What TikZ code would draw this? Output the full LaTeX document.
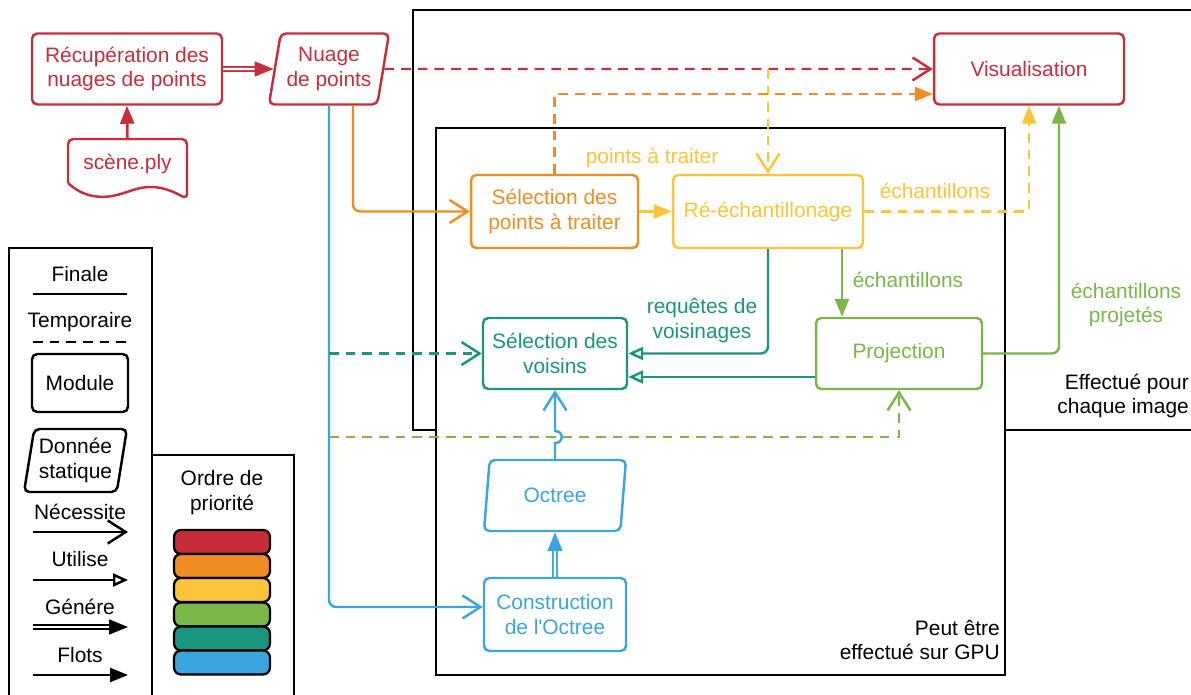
\documentclass[tikz,border=0pt]{standalone}
\usepackage{fontspec}
\setmainfont{Liberation Sans}
\usepackage{xcolor}
\usetikzlibrary{arrows.meta, shapes.geometric}
\definecolor{LucidRed}{HTML}{C92D39}
\definecolor{LucidOrange}{HTML}{EF8D22}
\definecolor{LucidYellow}{HTML}{FCC438}
\definecolor{LucidGreen}{HTML}{7AB648}
\definecolor{LucidTeal}{HTML}{19967D}
\definecolor{LucidBlue}{HTML}{3AA6DD}

\begin{document}
\begin{tikzpicture}[
  x=0.02cm, y=-0.02cm,
  font=\fontsize{11.9}{14.2}\selectfont,
  frame/.style={draw=black, line width=1.5pt, inner sep=0pt},
  box/.style={draw, rounded corners=3pt, line width=1.4pt, align=center},
  data/.style={trapezium, trapezium left angle=78, trapezium right angle=102, trapezium stretches body, draw, rounded corners=3pt, line width=1.4pt, align=center},
  wire/.style={line width=1.4pt},
  needs/.style={wire, -{Straight Barb[length=0.36cm, width=0.46cm]}},
  uses/.style={wire, -{Triangle[fill=white, length=0.3cm, width=0.26cm]}},
  flows/.style={wire, -{Triangle[length=0.36cm, width=0.28cm]}},
  makes/.style={line width=0.9pt, double=white, double distance=1.4pt, -{Triangle[length=0.38cm, width=0.3cm]}},
  temp/.style={dash pattern=on 5.5pt off 4pt},
  tag/.style={align=center},
  prio/.style={draw=black, line width=1.3pt, rounded corners=4pt, minimum width=1.92cm, minimum height=0.48cm}
]
\useasboundingbox (0,0) rectangle (1191,695);

% frames
\node[frame, minimum width=15.96cm, minimum height=8.4cm] (perimage) at (812,220) {};
\node[frame, fill=white, minimum width=11.38cm, minimum height=10.94cm] (gpu) at (720.5,401.5) {};
\node[tag, align=right, anchor=east] (perimagetxt) at (1195,396) {Effectué pour\\chaque image};
\node[tag, align=right, anchor=east] (gputxt) at (1006,640) {Peut être\\effectué sur GPU};

% modules and data
\node[box, LucidRed, minimum width=3.8cm, minimum height=1.42cm] (recup) at (127,69) {Récupération des\\nuages de points};
\node[data, LucidRed, minimum width=2.32cm, minimum height=1.42cm] (nuage) at (329,69) {Nuage\\de points};
\node[LucidRed, minimum width=2.38cm, minimum height=1.0cm] (scene) at (127.5,164) {scène.ply};
\draw[LucidRed, line width=1.4pt, rounded corners=3pt] (68,183) -- (68,139) -- (187,139) -- (187,199)
  .. controls (160,184) and (145,186) .. (127,192) .. controls (105,199) and (85,199) .. (68,183);
\node[box, LucidRed, minimum width=3.8cm, minimum height=1.42cm] (visu) at (1029,69) {Visualisation};
\node[box, LucidOrange, minimum width=3.34cm, minimum height=1.46cm] (selpts) at (554.5,211.5) {Sélection des\\points à traiter};
\node[box, LucidYellow, minimum width=3.8cm, minimum height=1.46cm] (reech) at (768,211.5) {Ré-échantillonage};
\node[box, LucidGreen, minimum width=3.32cm, minimum height=1.42cm] (proj) at (899,353.5) {Projection};
\node[box, LucidTeal, minimum width=2.88cm, minimum height=1.42cm] (voisins) at (555,353.5) {Sélection des\\voisins};
\node[data, LucidBlue, minimum width=2.84cm, minimum height=1.42cm] (octree) at (555,495.5) {Octree};
\node[box, LucidBlue, minimum width=2.84cm, minimum height=1.46cm] (constr) at (555,614.5) {Construction\\de l\textquotesingle Octree};

% labels
\node[tag, LucidYellow] (ptslbl) at (652,158) {points à traiter};
\node[tag, LucidYellow] (echlbl) at (935,191) {échantillons};
\node[tag, LucidGreen] (echlbl2) at (908,280) {échantillons};
\node[tag, LucidGreen] (projlbl) at (1126,305) {échantillons\\projetés};
\node[tag, LucidTeal] (reqlbl) at (702,321) {requêtes de\\voisinages};

% connectors
\draw[flows, LucidRed] (scene.north) -- (recup.south);
\draw[makes, LucidRed] (recup.east) -- (nuage.west);
\draw[needs, temp, LucidRed] (nuage.east) -- (visu.west);
\draw[needs, temp, LucidYellow] (reech.north |- nuage.east) -- (reech.north);
\draw[flows, temp, LucidOrange] (selpts.north) |- ([yshift=-0.5cm]visu.west);
\draw[needs, LucidOrange, rounded corners=4pt] ([xshift=0.48cm]nuage.south) |- (selpts.west);
\draw[needs, LucidBlue, rounded corners=4pt] (nuage.south) |- ([yshift=0.15cm]constr.west);
\draw[flows, LucidYellow] (selpts.east) -- (reech.west);
\draw[flows, temp, LucidYellow] (reech.east) -| (visu.south);
\draw[flows, LucidGreen] ([xshift=1.48cm]reech.south) -- ([xshift=1.48cm]reech.south |- proj.north);
\draw[flows, LucidGreen, rounded corners=4pt] (proj.east) -| ([xshift=0.6cm]visu.south);
\draw[uses, LucidTeal, rounded corners=4pt] (reech.south) |- (voisins.east);
\draw[uses, LucidTeal] ([yshift=-0.47cm]proj.west) -- ([yshift=-0.47cm]voisins.east);
\draw[needs, temp, LucidTeal] (voisins.west -| nuage.south) -- (voisins.west);
\coordinate (gsplit) at (329,437);
\draw[needs, temp, LucidGreen] (gsplit) -| (proj.south);
\draw[needs, LucidBlue] (octree.north) -- (octree.north |- 0,443)
  .. controls (564,443) and (564,431) .. (octree.north |- 0,431) -- (voisins.south);
\draw[makes, LucidBlue] (constr.north) -- (octree.south);

% legend
\node[frame, minimum width=2.86cm, minimum height=9.34cm] (legend) at (80.5,481.5) {};
\node[frame, minimum width=2.84cm, minimum height=5.2cm] (order) at (223,585) {};
\node[tag] (finlbl) at (80,274) {Finale};
\coordinate (fin-l) at (33,294); \coordinate (fin-r) at (127,294);
\draw[wire] (fin-l) -- (fin-r);
\node[tag] (templbl) at (80,322) {Temporaire};
\coordinate (temp-l) at (33,342); \coordinate (temp-r) at (127,342);
\draw[wire, temp] (temp-l) -- (temp-r);
\node[box, minimum width=1.92cm, minimum height=1.16cm] (modlbl) at (80,383) {Module};
\node[data, minimum width=2.06cm, minimum height=1.26cm, inner sep=1pt] (datlbl) at (75.5,460.5) {Donnée\\statique};
\node[tag] (neclbl) at (80,512) {Nécessite};
\coordinate (nec-l) at (33,532); \coordinate (nec-r) at (128,532);
\draw[needs] (nec-l) -- (nec-r);
\node[tag] (utilbl) at (80,559) {Utilise};
\coordinate (uti-l) at (33,580); \coordinate (uti-r) at (128,580);
\draw[uses] (uti-l) -- (uti-r);
\node[tag] (genlbl) at (80,607) {Génére};
\coordinate (gen-l) at (33,627); \coordinate (gen-r) at (128,627);
\draw[makes] (gen-l) -- (gen-r);
\node[tag] (flolbl) at (80,655) {Flots};
\coordinate (flo-l) at (33,675); \coordinate (flo-r) at (128,675);
\draw[flows] (flo-l) -- (flo-r);

\node[tag] (orderlbl) at (222,493) {Ordre de\\priorité};
\node[prio, fill=LucidRed] (p1) at (222,542) {};
\node[prio, fill=LucidOrange] (p2) at (222,566) {};
\node[prio, fill=LucidYellow] (p3) at (222,590) {};
\node[prio, fill=LucidGreen] (p4) at (222,614.5) {};
\node[prio, fill=LucidTeal] (p5) at (222,638.5) {};
\node[prio, fill=LucidBlue] (p6) at (222,662.5) {};
\end{tikzpicture}
\end{document}
